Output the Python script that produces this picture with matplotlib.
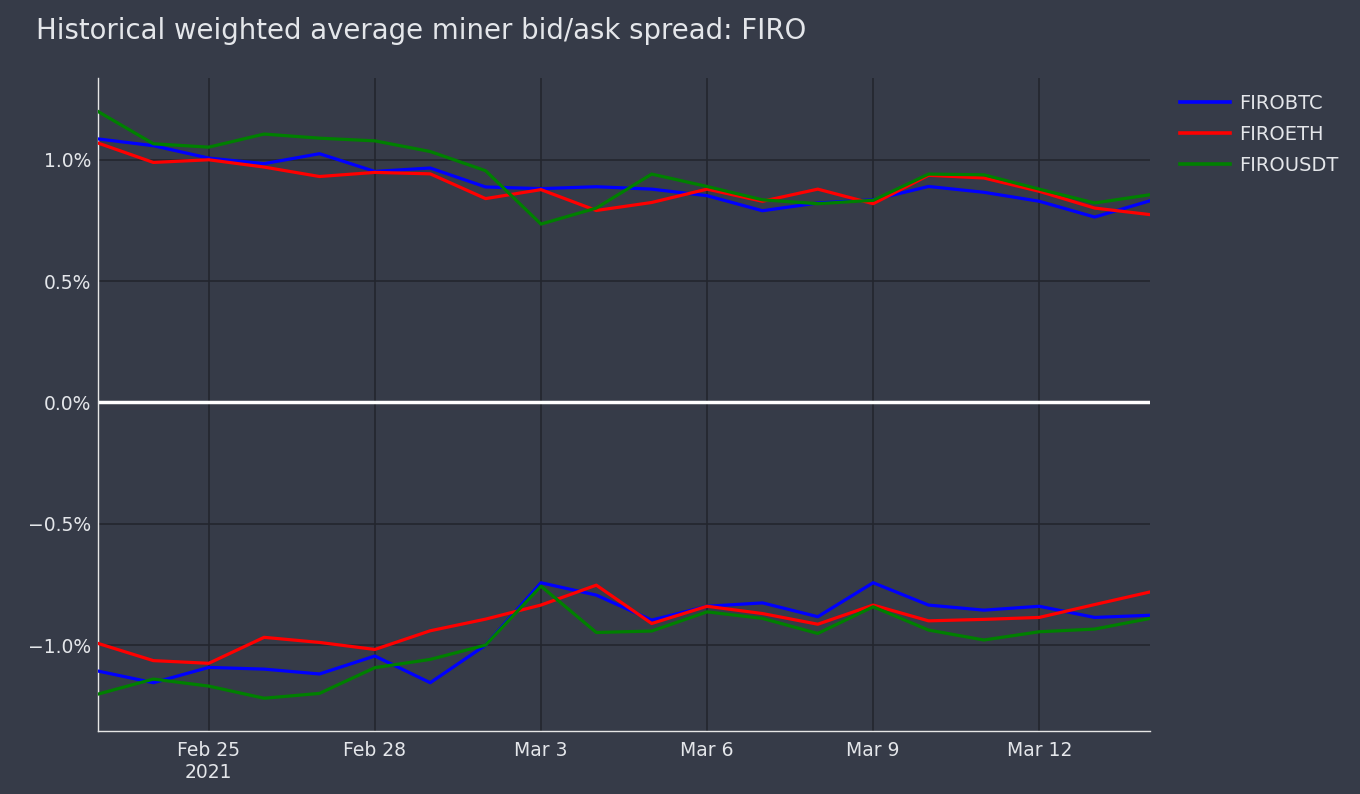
import matplotlib
matplotlib.use("Agg")
import matplotlib.pyplot as plt
import matplotlib.dates as mdates
import matplotlib.ticker as mticker
import numpy as np
import pandas as pd

dates = pd.date_range("2021-02-23", "2021-03-14", freq="D")

# spread in percent (upper = ask side, lower = bid side)
btc_ask = [1.086, 1.058, 1.007, 0.984, 1.025, 0.952, 0.966, 0.888, 0.881, 0.889,
           0.879, 0.852, 0.790, 0.822, 0.835, 0.890, 0.866, 0.829, 0.764, 0.831]
eth_ask = [1.069, 0.989, 1.000, 0.970, 0.931, 0.948, 0.942, 0.840, 0.877, 0.791,
           0.824, 0.879, 0.829, 0.879, 0.819, 0.936, 0.925, 0.870, 0.801, 0.774]
usdt_ask = [1.199, 1.066, 1.052, 1.106, 1.089, 1.078, 1.034, 0.955, 0.735, 0.801,
            0.941, 0.890, 0.835, 0.819, 0.833, 0.941, 0.938, 0.879, 0.822, 0.856]

btc_bid = [-1.107, -1.155, -1.092, -1.099, -1.119, -1.045, -1.155, -1.000, -0.743, -0.794,
           -0.897, -0.840, -0.826, -0.883, -0.743, -0.835, -0.856, -0.840, -0.886, -0.877]
eth_bid = [-0.993, -1.064, -1.075, -0.968, -0.989, -1.018, -0.941, -0.893, -0.835, -0.753,
           -0.911, -0.840, -0.870, -0.914, -0.835, -0.900, -0.894, -0.886, -0.833, -0.781]
usdt_bid = [-1.202, -1.140, -1.169, -1.219, -1.199, -1.093, -1.059, -1.000, -0.757, -0.948,
            -0.942, -0.863, -0.890, -0.952, -0.842, -0.938, -0.979, -0.945, -0.934, -0.890]

tick_dates = pd.to_datetime(["2021-02-25", "2021-02-28", "2021-03-03",
                             "2021-03-06", "2021-03-09", "2021-03-12"])
tick_labels = ["Feb 25\n2021", "Feb 28", "Mar 3", "Mar 6", "Mar 9", "Mar 12"]

bg = "#363b48"
grid_col = "#23262e"
text_col = "#e4e6ea"

fig = plt.figure(figsize=(13.6, 7.94), dpi=100, facecolor=bg)
ax = fig.add_axes([98 / 1360, 1 - 731 / 794, (1150 - 98) / 1360, (731 - 78) / 794])
ax.set_facecolor(bg)

series = [("FIROBTC", "#0000ff", btc_ask, btc_bid),
          ("FIROETH", "#ff0000", eth_ask, eth_bid),
          ("FIROUSDT", "#008000", usdt_ask, usdt_bid)]
for name, col, ask, bid in series:
    ax.plot(dates, ask, color=col, lw=2.3, label=name, zorder=3)
    ax.plot(dates, bid, color=col, lw=2.3, zorder=3)

ax.set_xlim(dates[0], dates[-1])
ax.set_ylim(-1.354, 1.337)

ax.set_xticks(tick_dates)
ax.set_xticklabels(tick_labels, linespacing=1.25)
ax.set_yticks([-1.0, -0.5, 0.0, 0.5, 1.0])
ax.yaxis.set_major_formatter(mticker.FuncFormatter(
    lambda v, p: ("%.1f%%" % v).replace("-", "\u2212") if abs(v) > 1e-9 else "0.0%"))

ax.grid(True, color=grid_col, lw=1.2, zorder=1)
ax.axhline(0, color="white", lw=2.5, zorder=2)
ax.tick_params(axis="both", length=0, colors=text_col, labelsize=13.5)
ax.tick_params(axis="y", pad=5)
ax.tick_params(axis="x", pad=7)

for side in ["top", "right"]:
    ax.spines[side].set_visible(False)
for side in ["left", "bottom"]:
    ax.spines[side].set_color("#e6e6e6")
    ax.spines[side].set_linewidth(1.0)

fig.text(36 / 1360, 1 - 31 / 794, "Historical weighted average miner bid/ask spread: FIRO",
         color=text_col, fontsize=19.8, va="center", ha="left")

leg = ax.legend(loc="upper left", bbox_to_anchor=(1172 / 1360, 1 - 86 / 794),
                bbox_transform=fig.transFigure, frameon=False, fontsize=14,
                handlelength=2.6, handletextpad=0.45, labelspacing=0.62,
                borderaxespad=0, borderpad=0.4)
for line in leg.get_lines():
    line.set_linewidth(2.6)
for t in leg.get_texts():
    t.set_color(text_col)

fig.savefig("out.png", dpi=100, facecolor=bg)
